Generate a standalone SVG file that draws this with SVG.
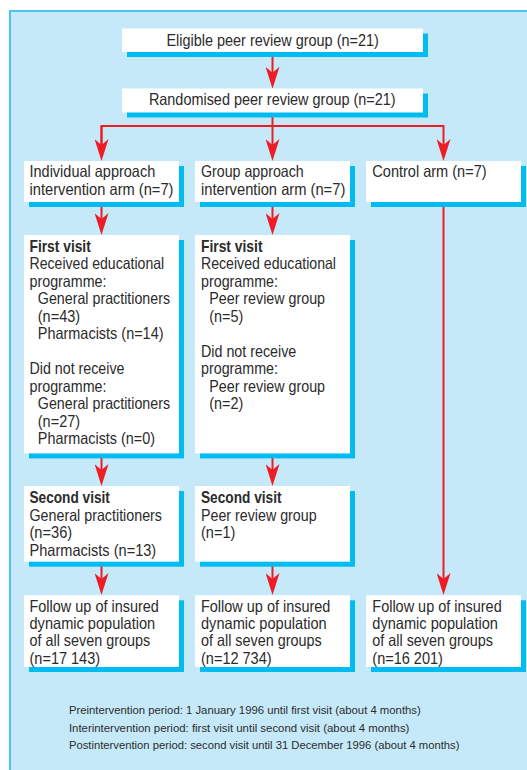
<svg xmlns="http://www.w3.org/2000/svg" width="527" height="770" viewBox="0 0 527 770">
<style>
.shadow{fill:#00bcf0}
.box{fill:#ffffff}
.t{font-family:"Liberation Sans",Arial,sans-serif;font-size:16.5px;fill:#2b2b2b}
.b{font-weight:bold}
.f{font-family:"Liberation Sans",Arial,sans-serif;font-size:11px;fill:#2b2b2b}
.c{fill:none;stroke:#ee1c25;stroke-width:2}
</style>
<defs>
<marker id="ah" viewBox="-23 -7 23 14" refX="-10" refY="0" markerWidth="23" markerHeight="14" markerUnits="userSpaceOnUse" orient="auto">
<path d="M0,0 L-22,-7 L-16,0 L-22,7 Z" fill="#ee1c25"/>
</marker>
</defs>
<rect x="10" y="11" width="530" height="770" fill="#c6e9f9" stroke="#4cc3f1" stroke-width="2"/>

<g id="connectors">
<path class="c" d="M272.5,52 V78.7" marker-end="url(#ah)"/>
<path class="c" d="M272.5,112 V151" marker-end="url(#ah)"/>
<path class="c" d="M101.5,151 V126 H443.5 V151" marker-end="url(#ah)"/>
<path class="c" d="M101.5,126 V151" marker-end="url(#ah)"/>
<path class="c" d="M101.5,202 V225" marker-end="url(#ah)"/>
<path class="c" d="M272.5,202 V225" marker-end="url(#ah)"/>
<path class="c" d="M101.5,453 V476" marker-end="url(#ah)"/>
<path class="c" d="M272.5,453 V476" marker-end="url(#ah)"/>
<path class="c" d="M101.5,561.5 V585" marker-end="url(#ah)"/>
<path class="c" d="M272.5,561.5 V585" marker-end="url(#ah)"/>
<path class="c" d="M443.5,202 V585" marker-end="url(#ah)"/>
</g>

<g id="eligible">
<rect class="shadow" x="127" y="33.5" width="301" height="23.5"/>
<rect class="box" x="122" y="28.5" width="301" height="23.5"/>
<text class="t" x="166.4" y="46" textLength="212.4" lengthAdjust="spacingAndGlyphs">Eligible peer review group (n=21)</text>
</g>

<g id="randomised">
<rect class="shadow" x="127" y="93.5" width="301" height="24"/>
<rect class="box" x="122" y="88.5" width="301" height="24"/>
<text class="t" x="148.9" y="105.2" textLength="246.7" lengthAdjust="spacingAndGlyphs">Randomised peer review group (n=21)</text>
</g>

<g id="individual-arm">
<rect class="shadow" x="29" y="166" width="155" height="41"/>
<rect class="box" x="24" y="161" width="155" height="41"/>
<text class="t" x="29.5" y="177" textLength="125.7" lengthAdjust="spacingAndGlyphs">Individual approach</text>
<text class="t" x="29.5" y="194.5" textLength="144" lengthAdjust="spacingAndGlyphs">intervention arm (n=7)</text>
</g>

<g id="group-arm">
<rect class="shadow" x="200" y="166" width="155" height="41"/>
<rect class="box" x="195" y="161" width="155" height="41"/>
<text class="t" x="201" y="177" textLength="102.7" lengthAdjust="spacingAndGlyphs">Group approach</text>
<text class="t" x="201" y="194.5" textLength="144.3" lengthAdjust="spacingAndGlyphs">intervention arm (n=7)</text>
</g>

<g id="control-arm">
<rect class="shadow" x="371" y="166" width="155" height="41"/>
<rect class="box" x="366" y="161" width="155" height="41"/>
<text class="t" x="372.3" y="177" textLength="114.3" lengthAdjust="spacingAndGlyphs">Control arm (n=7)</text>
</g>

<g id="individual-first-visit">
<rect class="shadow" x="29" y="240" width="155" height="218.4"/>
<rect class="box" x="24" y="235" width="155" height="218.4"/>
<text class="t b" x="29.5" y="251.7" textLength="61.3" lengthAdjust="spacingAndGlyphs">First visit</text>
<text class="t" x="29.5" y="269.2" textLength="134.7" lengthAdjust="spacingAndGlyphs">Received educational</text>
<text class="t" x="29.5" y="286.7" textLength="77" lengthAdjust="spacingAndGlyphs">programme:</text>
<text class="t" x="37.8" y="304.2" textLength="132.3" lengthAdjust="spacingAndGlyphs">General practitioners</text>
<text class="t" x="37.8" y="321.7" textLength="42.3" lengthAdjust="spacingAndGlyphs">(n=43)</text>
<text class="t" x="37.8" y="339.2" textLength="125.7" lengthAdjust="spacingAndGlyphs">Pharmacists (n=14)</text>
<text class="t" x="29.5" y="374.2" textLength="95" lengthAdjust="spacingAndGlyphs">Did not receive</text>
<text class="t" x="29.5" y="391.7" textLength="77" lengthAdjust="spacingAndGlyphs">programme:</text>
<text class="t" x="37.8" y="409.2" textLength="132.3" lengthAdjust="spacingAndGlyphs">General practitioners</text>
<text class="t" x="37.8" y="426.7" textLength="42.3" lengthAdjust="spacingAndGlyphs">(n=27)</text>
<text class="t" x="37.8" y="444.2" textLength="117.3" lengthAdjust="spacingAndGlyphs">Pharmacists (n=0)</text>
</g>

<g id="group-first-visit">
<rect class="shadow" x="200" y="240" width="155" height="218.4"/>
<rect class="box" x="195" y="235" width="155" height="218.4"/>
<text class="t b" x="201" y="251.7" textLength="61.5" lengthAdjust="spacingAndGlyphs">First visit</text>
<text class="t" x="201" y="269.2" textLength="135" lengthAdjust="spacingAndGlyphs">Received educational</text>
<text class="t" x="201" y="286.7" textLength="77" lengthAdjust="spacingAndGlyphs">programme:</text>
<text class="t" x="209.3" y="304.2" textLength="115.7" lengthAdjust="spacingAndGlyphs">Peer review group</text>
<text class="t" x="209.3" y="321.7" textLength="34" lengthAdjust="spacingAndGlyphs">(n=5)</text>
<text class="t" x="201" y="356.7" textLength="95.3" lengthAdjust="spacingAndGlyphs">Did not receive</text>
<text class="t" x="201" y="374.2" textLength="77" lengthAdjust="spacingAndGlyphs">programme:</text>
<text class="t" x="209.3" y="391.7" textLength="115.7" lengthAdjust="spacingAndGlyphs">Peer review group</text>
<text class="t" x="209.3" y="409.2" textLength="34" lengthAdjust="spacingAndGlyphs">(n=2)</text>
</g>

<g id="individual-second-visit">
<rect class="shadow" x="29" y="491" width="155" height="75.7"/>
<rect class="box" x="24" y="486" width="155" height="75.7"/>
<text class="t b" x="29.5" y="503.2" textLength="80.4" lengthAdjust="spacingAndGlyphs">Second visit</text>
<text class="t" x="29.5" y="520.7" textLength="132.5" lengthAdjust="spacingAndGlyphs">General practitioners</text>
<text class="t" x="29.5" y="538.2" textLength="42.7" lengthAdjust="spacingAndGlyphs">(n=36)</text>
<text class="t" x="29.5" y="555.7" textLength="126.7" lengthAdjust="spacingAndGlyphs">Pharmacists (n=13)</text>
</g>

<g id="group-second-visit">
<rect class="shadow" x="200" y="491" width="155" height="75.7"/>
<rect class="box" x="195" y="486" width="155" height="75.7"/>
<text class="t b" x="201" y="503.2" textLength="80.5" lengthAdjust="spacingAndGlyphs">Second visit</text>
<text class="t" x="201" y="520.7" textLength="115.6" lengthAdjust="spacingAndGlyphs">Peer review group</text>
<text class="t" x="201" y="538.2" textLength="34.3" lengthAdjust="spacingAndGlyphs">(n=1)</text>
</g>

<g id="individual-follow-up">
<rect class="shadow" x="29" y="600.3" width="155" height="71.7"/>
<rect class="box" x="24" y="595.3" width="155" height="71.7"/>
<text class="t" x="29.5" y="611.8" textLength="129.4" lengthAdjust="spacingAndGlyphs">Follow up of insured</text>
<text class="t" x="29.5" y="629.1" textLength="125.7" lengthAdjust="spacingAndGlyphs">dynamic population</text>
<text class="t" x="29.5" y="646.4" textLength="120.7" lengthAdjust="spacingAndGlyphs">of all seven groups</text>
<text class="t" x="29.5" y="663.7" textLength="70.6" lengthAdjust="spacingAndGlyphs">(n=17 143)</text>
</g>

<g id="group-follow-up">
<rect class="shadow" x="200" y="600.3" width="155" height="71.7"/>
<rect class="box" x="195" y="595.3" width="155" height="71.7"/>
<text class="t" x="201" y="611.8" textLength="129.4" lengthAdjust="spacingAndGlyphs">Follow up of insured</text>
<text class="t" x="201" y="629.1" textLength="125.7" lengthAdjust="spacingAndGlyphs">dynamic population</text>
<text class="t" x="201" y="646.4" textLength="120.7" lengthAdjust="spacingAndGlyphs">of all seven groups</text>
<text class="t" x="201" y="663.7" textLength="70.6" lengthAdjust="spacingAndGlyphs">(n=12 734)</text>
</g>

<g id="control-follow-up">
<rect class="shadow" x="371" y="600.3" width="155" height="71.7"/>
<rect class="box" x="366" y="595.3" width="155" height="71.7"/>
<text class="t" x="372.3" y="611.8" textLength="129.4" lengthAdjust="spacingAndGlyphs">Follow up of insured</text>
<text class="t" x="372.3" y="629.1" textLength="125.7" lengthAdjust="spacingAndGlyphs">dynamic population</text>
<text class="t" x="372.3" y="646.4" textLength="120.7" lengthAdjust="spacingAndGlyphs">of all seven groups</text>
<text class="t" x="372.3" y="663.7" textLength="70.6" lengthAdjust="spacingAndGlyphs">(n=16 201)</text>
</g>

<g id="footnote">
<text class="f" x="68.9" y="714" textLength="351.9" lengthAdjust="spacingAndGlyphs">Preintervention period: 1 January 1996 until first visit (about 4 months)</text>
<text class="f" x="68.9" y="731.5" textLength="340.5" lengthAdjust="spacingAndGlyphs">Interintervention period: first visit until second visit (about 4 months)</text>
<text class="f" x="68.9" y="749.3" textLength="390.6" lengthAdjust="spacingAndGlyphs">Postintervention period: second visit until 31 December 1996 (about 4 months)</text>
</g>
</svg>
